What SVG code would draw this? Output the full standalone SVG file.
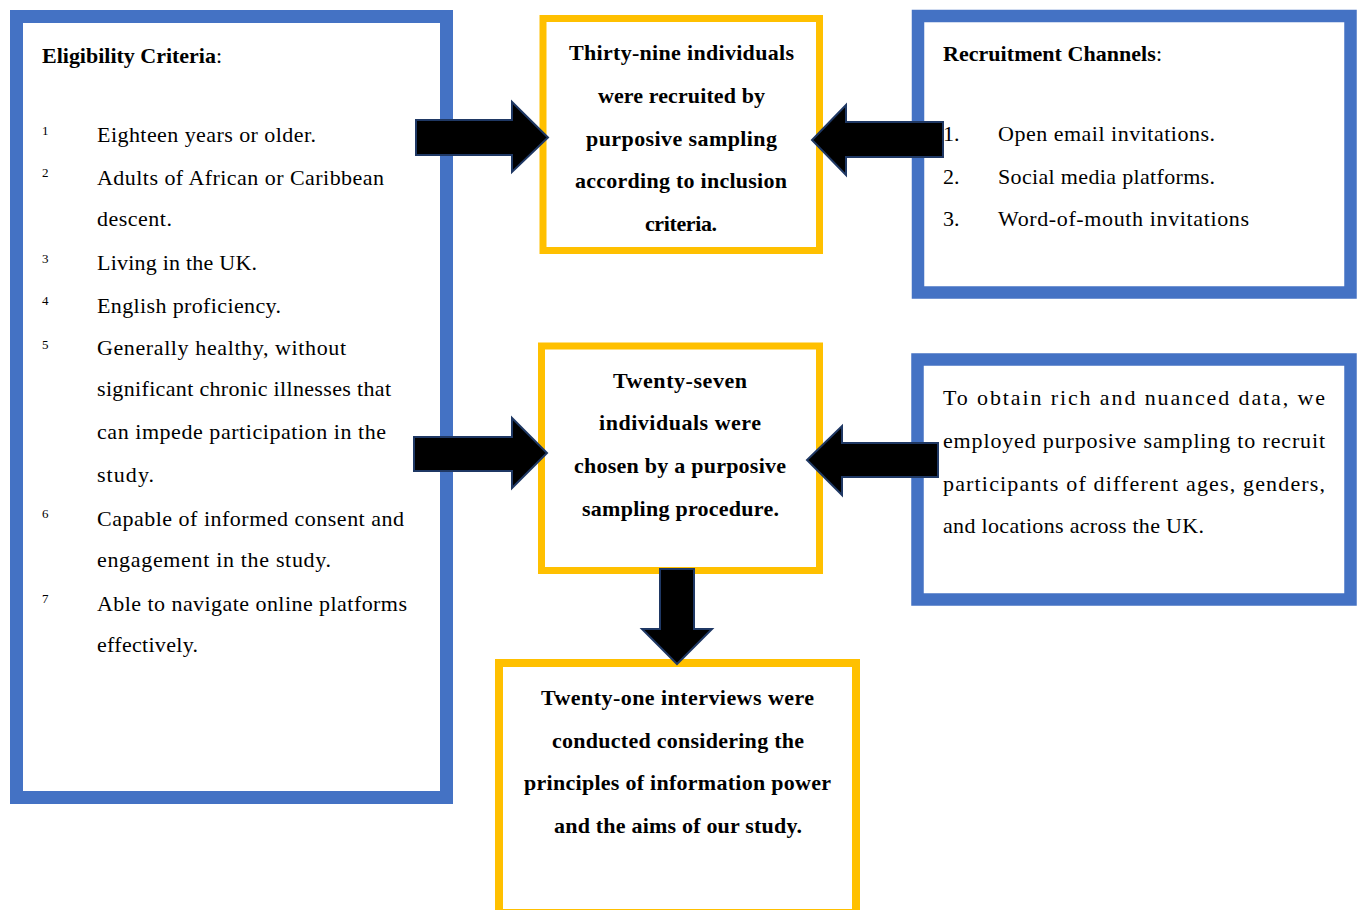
<svg xmlns="http://www.w3.org/2000/svg" width="1358" height="910" viewBox="0 0 1358 910">
<style>
.bg{fill:#ffffff}
.blue{fill:#ffffff;stroke:#4472C4;stroke-width:12.5}
.yellow{fill:#ffffff;stroke:#FFC000;stroke-width:7}
.t{font-family:"Liberation Serif","Times New Roman",serif;font-size:22px;fill:#000}
.b{font-weight:bold}
.sup{font-family:"Liberation Serif","Times New Roman",serif;font-size:13px;fill:#000}
.arrow{fill:#000;stroke:#1F3864;stroke-width:2;stroke-linejoin:miter}
</style>
<rect class="bg" x="0" y="0" width="1358" height="910"/>

<g id="eligibility">
<rect class="blue" x="16.5" y="16.5" width="430" height="781" style="stroke-width:13"/>
<text class="t" x="42" y="63" textLength="180" lengthAdjust="spacing"><tspan class="b">Eligibility Criteria</tspan>:</text>
<text class="sup" x="42" y="135">1</text>
<text class="t" x="97" y="142" textLength="219" lengthAdjust="spacing">Eighteen years or older.</text>
<text class="sup" x="42" y="177">2</text>
<text class="t" x="97" y="185" textLength="287" lengthAdjust="spacing">Adults of African or Caribbean</text>
<text class="t" x="97" y="226" textLength="75" lengthAdjust="spacing">descent.</text>
<text class="sup" x="42" y="263">3</text>
<text class="t" x="97" y="270" textLength="160" lengthAdjust="spacing">Living in the UK.</text>
<text class="sup" x="42" y="305">4</text>
<text class="t" x="97" y="313" textLength="184" lengthAdjust="spacing">English proficiency.</text>
<text class="sup" x="42" y="349">5</text>
<text class="t" x="97" y="355" textLength="249" lengthAdjust="spacing">Generally healthy, without</text>
<text class="t" x="97" y="396" textLength="294" lengthAdjust="spacing">significant chronic illnesses that</text>
<text class="t" x="97" y="439" textLength="289" lengthAdjust="spacing">can impede participation in the</text>
<text class="t" x="97" y="482" textLength="57" lengthAdjust="spacing">study.</text>
<text class="sup" x="42" y="518">6</text>
<text class="t" x="97" y="526" textLength="307" lengthAdjust="spacing">Capable of informed consent and</text>
<text class="t" x="97" y="567" textLength="234" lengthAdjust="spacing">engagement in the study.</text>
<text class="sup" x="42" y="603">7</text>
<text class="t" x="97" y="611" textLength="310" lengthAdjust="spacing">Able to navigate online platforms</text>
<text class="t" x="97" y="652" textLength="101" lengthAdjust="spacing">effectively.</text>
</g>

<g id="recruited">
<rect class="yellow" x="543" y="18.5" width="276.5" height="232"/>
<text class="t b" x="569" y="60" textLength="225" lengthAdjust="spacing">Thirty-nine individuals</text>
<text class="t b" x="598" y="103" textLength="167" lengthAdjust="spacing">were recruited by</text>
<text class="t b" x="586" y="146" textLength="191" lengthAdjust="spacing">purposive sampling</text>
<text class="t b" x="575" y="188" textLength="212" lengthAdjust="spacing">according to inclusion</text>
<text class="t b" x="645" y="231" textLength="72" lengthAdjust="spacing">criteria.</text>
</g>

<g id="channels">
<rect class="blue" x="918" y="16" width="432.5" height="276.5"/>
<text class="t" x="943" y="61" textLength="219" lengthAdjust="spacing"><tspan class="b">Recruitment Channels</tspan>:</text>
<text class="t" x="943" y="141">1.</text>
<text class="t" x="998" y="141" textLength="217" lengthAdjust="spacing">Open email invitations.</text>
<text class="t" x="943" y="184">2.</text>
<text class="t" x="998" y="184" textLength="217" lengthAdjust="spacing">Social media platforms.</text>
<text class="t" x="943" y="226">3.</text>
<text class="t" x="998" y="226" textLength="251" lengthAdjust="spacing">Word-of-mouth invitations</text>
</g>

<g id="chosen">
<rect class="yellow" x="541.5" y="346" width="278" height="224.5"/>
<text class="t b" x="613" y="388" textLength="134" lengthAdjust="spacing">Twenty-seven</text>
<text class="t b" x="599" y="430" textLength="162" lengthAdjust="spacing">individuals were</text>
<text class="t b" x="574" y="473" textLength="212" lengthAdjust="spacing">chosen by a purposive</text>
<text class="t b" x="582" y="516" textLength="197" lengthAdjust="spacing">sampling procedure.</text>
</g>

<g id="rationale">
<rect class="blue" x="917.5" y="359.5" width="433" height="240"/>
<text class="t" x="943" y="405" textLength="382" lengthAdjust="spacing">To obtain rich and nuanced data, we</text>
<text class="t" x="943" y="448" textLength="382" lengthAdjust="spacing">employed purposive sampling to recruit</text>
<text class="t" x="943" y="491" textLength="382" lengthAdjust="spacing">participants of different ages, genders,</text>
<text class="t" x="943" y="533" textLength="261" lengthAdjust="spacing">and locations across the UK.</text>
</g>

<g id="interviews">
<rect class="yellow" x="499" y="663" width="357" height="250" style="stroke-width:8"/>
<text class="t b" x="541" y="705" textLength="273" lengthAdjust="spacing">Twenty-one interviews were</text>
<text class="t b" x="552" y="748" textLength="252" lengthAdjust="spacing">conducted considering the</text>
<text class="t b" x="524" y="790" textLength="307" lengthAdjust="spacing">principles of information power</text>
<text class="t b" x="554" y="833" textLength="248" lengthAdjust="spacing">and the aims of our study.</text>
</g>

<g id="connectors">
<polygon class="arrow" points="416,120 512,120 512,102 548,137.5 512,172 512,155 416,155"/>
<polygon class="arrow" points="943,122 846,122 846,105 812,140 846,175 846,157 943,157"/>
<polygon class="arrow" points="414,437 512,437 512,418 547,453 512,488 512,471 414,471"/>
<polygon class="arrow" points="938,443 842,443 842,426 807,460 842,495 842,477 938,477"/>
<polygon class="arrow" points="660,569 694,569 694,629 712,629 677,664 642,629 660,629"/>
</g>
</svg>
